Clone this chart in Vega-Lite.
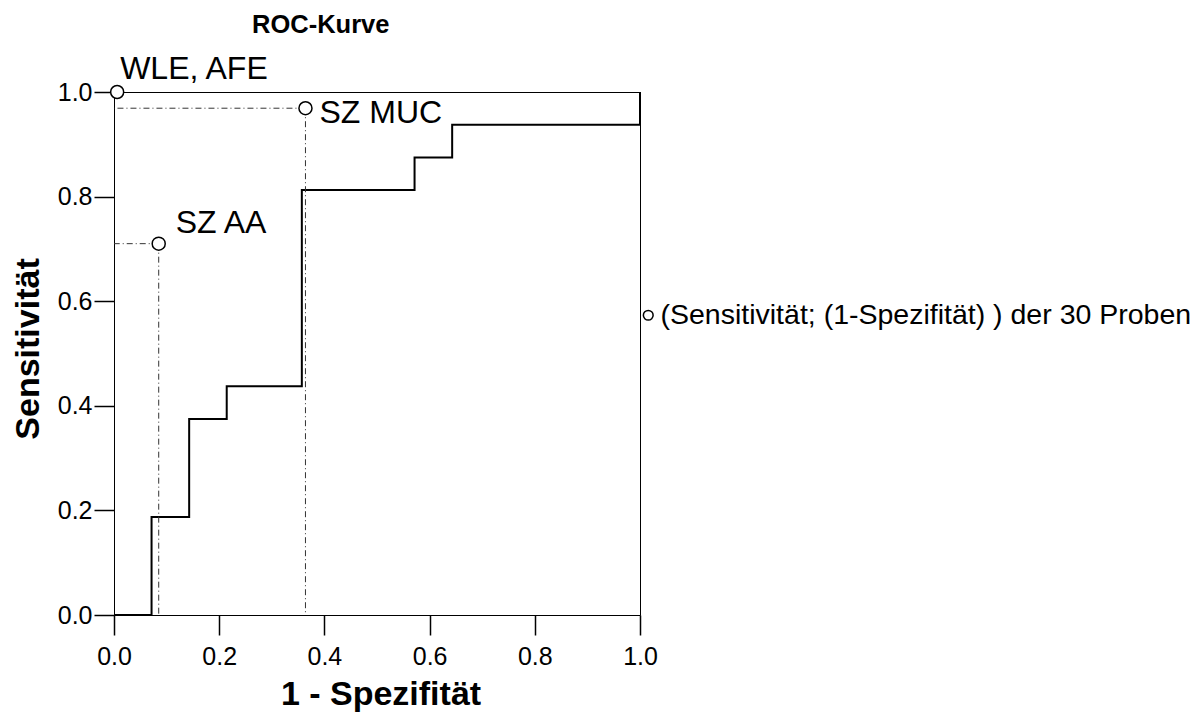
{
  "$schema": "https://vega.github.io/schema/vega-lite/v6.json",
  "width": 526,
  "height": 523,
  "autosize": {"type": "none"},
  "padding": {"left": 114, "top": 92, "right": 560, "bottom": 100},
  "background": "white",
  "config": {
    "font": "Liberation Sans",
    "view": {"stroke": "black", "strokeWidth": 1},
    "axis": {"grid": false, "domainColor": "black", "tickColor": "black", "labelColor": "black", "titleColor": "black", "labelFont": "Liberation Sans", "titleFont": "Liberation Sans", "labelFontSize": 25, "titleFontSize": 34, "titleFontWeight": "bold", "tickSize": 20, "domainWidth": 1, "tickWidth": 1.5, "labelFlush": false}
  },
  "title": {"text": "ROC-Kurve", "anchor": "start", "frame": "group", "dx": 138, "fontSize": 25.5, "fontWeight": "bold", "color": "black", "font": "Liberation Sans", "offset": 15},
  "datasets": {
    "roc": [
      {"fpr": 0.0, "sens": 0.0},
      {"fpr": 0.0714, "sens": 0.1875},
      {"fpr": 0.1429, "sens": 0.375},
      {"fpr": 0.2143, "sens": 0.4375},
      {"fpr": 0.3571, "sens": 0.8125},
      {"fpr": 0.5714, "sens": 0.875},
      {"fpr": 0.6429, "sens": 0.9375},
      {"fpr": 1.0, "sens": 1.0}
    ],
    "proben": [
      {"fpr": 0.006, "sens": 1.0, "label": "WLE, AFE", "serie": "(Sensitivität; (1-Spezifität) ) der 30 Proben"},
      {"fpr": 0.364, "sens": 0.969, "label": "SZ MUC", "serie": "(Sensitivität; (1-Spezifität) ) der 30 Proben"},
      {"fpr": 0.085, "sens": 0.71, "label": "SZ AA", "serie": "(Sensitivität; (1-Spezifität) ) der 30 Proben"}
    ]
  },
  "layer": [
    {
      "data": {"name": "roc"},
      "mark": {"type": "line", "interpolate": "step-after", "color": "black", "strokeWidth": 2},
      "encoding": {
        "x": {"field": "fpr", "type": "quantitative", "scale": {"domain": [0, 1], "nice": false}, "axis": {"values": [0, 0.2, 0.4, 0.6, 0.8, 1.0], "format": ".1f", "title": "1 - Spezifität", "labelPadding": 9, "titlePadding": 8, "titleX": 266.5}},
        "y": {"field": "sens", "type": "quantitative", "scale": {"domain": [0, 1], "nice": false}, "axis": {"values": [0, 0.2, 0.4, 0.6, 0.8, 1.0], "format": ".1f", "title": "Sensitivität", "labelPadding": 2, "titlePadding": 12, "titleY": 256.5}}
      }
    },
    {
      "data": {"name": "proben"},
      "transform": [{"filter": "datum.label != 'WLE, AFE'"}],
      "mark": {"type": "rule", "strokeDash": [6, 3, 1, 3], "color": "#333333", "strokeWidth": 1},
      "encoding": {
        "x": {"field": "fpr", "type": "quantitative"},
        "x2": {"datum": 0},
        "y": {"field": "sens", "type": "quantitative"}
      }
    },
    {
      "data": {"name": "proben"},
      "transform": [{"filter": "datum.label != 'WLE, AFE'"}],
      "mark": {"type": "rule", "strokeDash": [6, 3, 1, 3], "color": "#333333", "strokeWidth": 1},
      "encoding": {
        "x": {"field": "fpr", "type": "quantitative"},
        "y": {"field": "sens", "type": "quantitative"},
        "y2": {"datum": 0}
      }
    },
    {
      "data": {"name": "proben"},
      "mark": {"type": "point", "filled": true, "fill": "white", "stroke": "black", "strokeWidth": 1.5, "size": 170, "opacity": 1},
      "encoding": {
        "x": {"field": "fpr", "type": "quantitative"},
        "y": {"field": "sens", "type": "quantitative"},
        "shape": {"field": "serie", "type": "nominal", "scale": {"range": ["circle"]}, "legend": {"title": null, "orient": "none", "legendX": 520, "legendY": 209, "labelFontSize": 28.5, "labelFont": "Liberation Sans", "labelColor": "black", "labelLimit": 0, "symbolType": "circle", "symbolSize": 95, "symbolOffset": 0, "labelOffset": -2, "padding": 0, "encode": {"symbols": {"update": {"fill": {"value": "white"}, "stroke": {"value": "black"}, "strokeWidth": {"value": 1.2}, "opacity": {"value": 1}}}}}}
      }
    },
    {
      "data": {"name": "proben"},
      "transform": [{"filter": "datum.label == 'WLE, AFE'"}],
      "mark": {"type": "text", "align": "left", "baseline": "alphabetic", "dx": 3, "dy": -13, "fontSize": 32, "color": "black"},
      "encoding": {"x": {"field": "fpr", "type": "quantitative"}, "y": {"field": "sens", "type": "quantitative"}, "text": {"field": "label", "type": "nominal"}}
    },
    {
      "data": {"name": "proben"},
      "transform": [{"filter": "datum.label == 'SZ MUC'"}],
      "mark": {"type": "text", "align": "left", "baseline": "alphabetic", "dx": 14, "dy": 15, "fontSize": 32, "color": "black"},
      "encoding": {"x": {"field": "fpr", "type": "quantitative"}, "y": {"field": "sens", "type": "quantitative"}, "text": {"field": "label", "type": "nominal"}}
    },
    {
      "data": {"name": "proben"},
      "transform": [{"filter": "datum.label == 'SZ AA'"}],
      "mark": {"type": "text", "align": "left", "baseline": "alphabetic", "dx": 17, "dy": -11, "fontSize": 32, "color": "black"},
      "encoding": {"x": {"field": "fpr", "type": "quantitative"}, "y": {"field": "sens", "type": "quantitative"}, "text": {"field": "label", "type": "nominal"}}
    }
  ]
}
